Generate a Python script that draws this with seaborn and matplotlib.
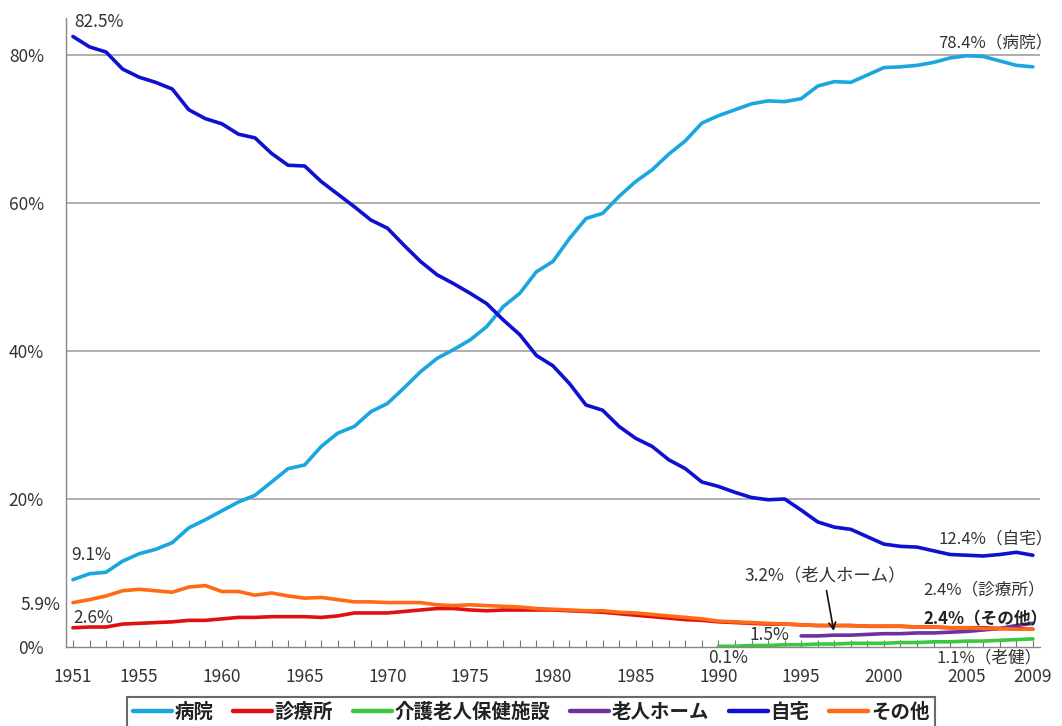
import numpy as np
import pandas as pd
import matplotlib
matplotlib.use("Agg")
import matplotlib.pyplot as plt
import seaborn as sns
from matplotlib.lines import Line2D

years = list(range(1951, 2010))

hospital = [9.1, 9.9, 10.1, 11.6, 12.6, 13.2, 14.1, 16.1, 17.2, 18.4,
            19.6, 20.5, 22.3, 24.1, 24.6, 27.1, 28.9, 29.8, 31.8, 32.9,
            35.0, 37.2, 39.0, 40.2, 41.5, 43.3, 46.0, 47.8, 50.7, 52.1,
            55.2, 57.9, 58.6, 60.9, 62.9, 64.5, 66.6, 68.4, 70.8, 71.8,
            72.6, 73.4, 73.8, 73.7, 74.1, 75.8, 76.4, 76.3, 77.3, 78.3,
            78.4, 78.6, 79.0, 79.6, 79.9, 79.8, 79.2, 78.6, 78.4]
clinic = [2.6, 2.7, 2.7, 3.1, 3.2, 3.3, 3.4, 3.6, 3.6, 3.8,
          4.0, 4.0, 4.1, 4.1, 4.1, 4.0, 4.2, 4.6, 4.6, 4.6,
          4.8, 5.0, 5.2, 5.2, 5.0, 4.9, 5.0, 5.0, 5.0, 5.0,
          4.9, 4.8, 4.7, 4.5, 4.3, 4.1, 3.9, 3.7, 3.6, 3.4,
          3.3, 3.2, 3.1, 3.1, 3.0, 2.9, 2.9, 2.9, 2.8, 2.8,
          2.8, 2.7, 2.7, 2.6, 2.6, 2.6, 2.5, 2.5, 2.4]
rouken_years = list(range(1990, 2010))
rouken = [0.1, 0.1, 0.2, 0.2, 0.3, 0.3, 0.4, 0.4, 0.5, 0.5,
          0.5, 0.6, 0.6, 0.7, 0.7, 0.8, 0.8, 0.9, 1.0, 1.1]
home_years = list(range(1995, 2010))
nursing_home = [1.5, 1.5, 1.6, 1.6, 1.7, 1.8, 1.8, 1.9, 1.9, 2.0,
                2.1, 2.3, 2.5, 2.9, 3.2]
own_home = [82.5, 81.1, 80.4, 78.1, 77.0, 76.3, 75.4, 72.6, 71.4, 70.7,
            69.3, 68.8, 66.7, 65.1, 65.0, 62.9, 61.2, 59.5, 57.7, 56.6,
            54.3, 52.1, 50.3, 49.1, 47.8, 46.4, 44.2, 42.2, 39.4, 38.0,
            35.6, 32.7, 32.0, 29.8, 28.2, 27.1, 25.3, 24.1, 22.3, 21.7,
            20.9, 20.2, 19.9, 20.0, 18.5, 16.9, 16.2, 15.9, 14.9, 13.9,
            13.6, 13.5, 13.0, 12.5, 12.4, 12.3, 12.5, 12.8, 12.4]
other = [6.0, 6.4, 6.9, 7.6, 7.8, 7.6, 7.4, 8.1, 8.3, 7.5,
         7.5, 7.0, 7.3, 6.9, 6.6, 6.7, 6.4, 6.1, 6.1, 6.0,
         6.0, 6.0, 5.7, 5.6, 5.7, 5.6, 5.5, 5.4, 5.2, 5.1,
         5.0, 4.9, 4.9, 4.7, 4.6, 4.4, 4.2, 4.0, 3.8, 3.5,
         3.4, 3.3, 3.2, 3.1, 3.0, 2.9, 2.9, 2.9, 2.8, 2.8,
         2.8, 2.7, 2.7, 2.6, 2.6, 2.5, 2.5, 2.4, 2.4]

series_names = ["病院", "診療所", "介護老人保健施設", "老人ホーム", "自宅", "その他"]
series_colors = ["#1BA6E0", "#E01010", "#3CC83C", "#7030A0", "#1010D0", "#FF6A14"]
x_tick_labels = [1951, 1955, 1960, 1965, 1970, 1975, 1980, 1985, 1990, 1995, 2000, 2005, 2009]
y_ticks = [0, 20, 40, 60, 80]

frames = [
    pd.DataFrame({"year": years, "value": hospital, "place": "病院"}),
    pd.DataFrame({"year": years, "value": clinic, "place": "診療所"}),
    pd.DataFrame({"year": rouken_years, "value": rouken, "place": "介護老人保健施設"}),
    pd.DataFrame({"year": home_years, "value": nursing_home, "place": "老人ホーム"}),
    pd.DataFrame({"year": years, "value": own_home, "place": "自宅"}),
    pd.DataFrame({"year": years, "value": other, "place": "その他"}),
]
df = pd.concat(frames, ignore_index=True)

sns.set_theme(style="white")
plt.rcParams['font.family'] = ['Noto Sans CJK JP', 'DejaVu Sans']

fig = plt.figure(figsize=(10.62, 7.26), dpi=100)
ax = fig.add_axes([66 / 1062, 1 - 647 / 726, (1040 - 66) / 1062, (647 - 18) / 726])

palette = dict(zip(series_names, series_colors))
sns.lineplot(data=df, x="year", y="value", hue="place", hue_order=series_names,
             palette=palette, linewidth=2.6, ax=ax, legend=False)

ax.set_xlim(1950.58, 2009.43)
ax.set_ylim(0, 85)
ax.set_yticks(y_ticks)
ax.set_yticklabels([f"{v}%" for v in y_ticks], fontsize=12.5, color="#333333")
ax.set_xticks(x_tick_labels)
ax.set_xticklabels([str(v) for v in x_tick_labels], fontsize=12.5, color="#333333")
ax.set_xticks(years, minor=True)
ax.tick_params(axis="x", which="both", direction="in", length=5, color="#777777",
               bottom=True, pad=15, width=0.8)
ax.tick_params(axis="y", length=0, pad=16)
ax.set_xlabel("")
ax.set_ylabel("")
for v in [20, 40, 60, 80]:
    ax.axhline(v, color="#999999", linewidth=1.1, zorder=0)
for s in ["top", "right"]:
    ax.spines[s].set_visible(False)
for s in ["left", "bottom"]:
    ax.spines[s].set_color("#888888")
    ax.spines[s].set_linewidth(1.0)

tc = "#333333"
fs = 12.5
fs2 = 12
ax.text(1951.1, 84.4, "82.5%", fontsize=fs, color=tc, va="center", ha="left")
ax.text(2003.3, 81.6, "78.4%（病院）", fontsize=fs2, color=tc, va="center", ha="left", clip_on=False)
ax.text(1950.9, 12.4, "9.1%", fontsize=fs, color=tc, va="center", ha="left")
ax.text(2003.3, 14.6, "12.4%（自宅）", fontsize=fs2, color=tc, va="center", ha="left", clip_on=False)
ax.text(-0.006, 5.7, "5.9%", fontsize=fs, color=tc, va="center", ha="right",
        transform=ax.get_yaxis_transform())
ax.text(1951.0, 3.9, "2.6%", fontsize=fs, color=tc, va="center", ha="left")
ax.text(1991.6, 9.7, "3.2%（老人ホーム）", fontsize=fs, color=tc, va="center", ha="left")
ax.annotate("", xy=(1997.0, 1.8), xytext=(1996.5, 8.0),
            arrowprops=dict(arrowstyle="->", color="#111111", lw=1.2))
ax.text(2002.4, 7.7, "2.4%（診療所）", fontsize=fs2, color=tc, va="center", ha="left", clip_on=False)
ax.text(2002.4, 3.7, "2.4%（その他）", fontsize=fs2, color="#222222", va="center", ha="left",
        fontweight="bold", clip_on=False)
ax.text(1994.3, 1.6, "1.5%", fontsize=fs, color=tc, va="center", ha="right")
ax.text(1990.6, -1.5, "0.1%", fontsize=fs, color=tc, va="center", ha="center", clip_on=False)
ax.text(2003.2, -1.5, "1.1%（老健）", fontsize=fs2, color=tc, va="center", ha="left", clip_on=False)

handles = [Line2D([0], [0], color=c, linewidth=3.2) for c in series_colors]
leg = fig.legend(handles, series_names, loc="upper center", bbox_to_anchor=(0.5, 1 - 697 / 726),
                 ncol=6, frameon=True, fancybox=False, fontsize=14, handlelength=2.0,
                 handletextpad=0.15, columnspacing=1.0, borderpad=0.3, borderaxespad=0)
leg.get_frame().set_edgecolor("#444444")
leg.get_frame().set_linewidth(1.5)
for t in leg.get_texts():
    t.set_fontweight("bold")
    t.set_color("#222222")

fig.savefig("out.png", dpi=100)
